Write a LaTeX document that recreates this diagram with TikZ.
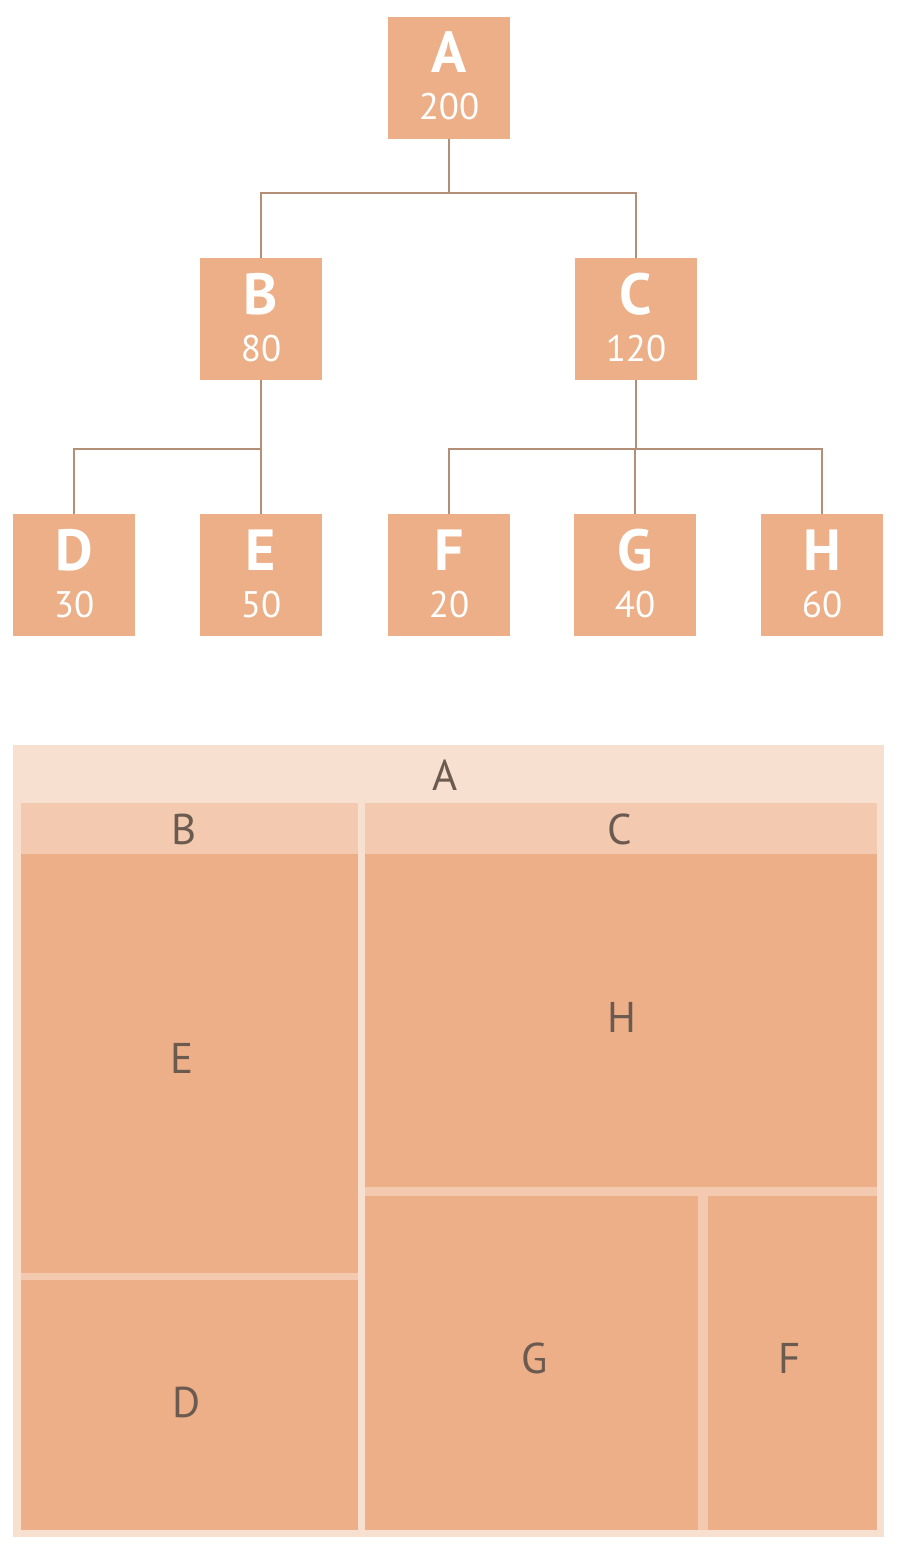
\documentclass[tikz,border=0pt]{standalone}
\usepackage{fontspec}
\setmainfont{PT Sans}
\usetikzlibrary{calc}
\definecolor{boxfill}{HTML}{EDAF87}
\definecolor{conncol}{HTML}{B38F78}
\definecolor{lvlA}{HTML}{F8E0D1}
\definecolor{lvlB}{HTML}{F3CAB0}
\definecolor{tmtext}{HTML}{6B5A50}
\begin{document}
\begin{tikzpicture}[x=1pt,y=-1pt,
  treebox/.style={fill=boxfill, draw=none, minimum width=122pt, minimum height=122pt, inner sep=0pt, outer sep=0pt},
  bigletter/.style={text=white, font=\fontsize{58}{58}\selectfont\bfseries, inner sep=0pt, anchor=base},
  bignum/.style={text=white, font=\fontsize{37}{37}\selectfont, inner sep=0pt, anchor=base},
  conn/.style={draw=conncol, line width=2.2pt},
  tmlabel/.style={text=tmtext, font=\fontsize{43}{43}\selectfont, inner sep=0pt}]
\useasboundingbox (0,0) rectangle (900,1544);
% ---- tree ----
\node[treebox] (A) at (449,78) {};
\node[treebox] (B) at (261,319) {};
\node[treebox] (C) at (636,319) {};
\node[treebox] (D) at (74,575) {};
\node[treebox] (E) at (261,575) {};
\node[treebox] (F) at (449,575) {};
\node[treebox] (G) at (635,575) {};
\node[treebox] (H) at (822,575) {};
\foreach \n/\v in {A/200,B/80,C/120,D/30,E/50,F/20,G/40,H/60}{
  \node[bigletter] (\n-l) at ($(\n.center)+(0,-5)$) {\n};
  \node[bignum] (\n-v) at ($(\n.center)+(0,42)$) {\v};
}
\coordinate (a1) at (449,193);
\coordinate (b1) at (261,449);
\coordinate (c1) at (636,449);
\draw[conn] (A.south) -- (a1);
\draw[conn] (B.north) -- (B.north |- a1) -- (C.north |- a1) -- (C.north);
\draw[conn] (B.south) -- (E.north);
\draw[conn] (D.north) -- (D.north |- b1) -- (E.north |- b1);
\draw[conn] (C.south) -- (C.south |- c1);
\draw[conn] (F.north) -- (F.north |- c1) -- (H.north |- c1) -- (H.north);
\draw[conn] (G.north) -- (G.north |- c1);
% ---- treemap ----
\fill[lvlA] (13,745) rectangle (884,1537);
\fill[lvlB] (21,803) rectangle (358,1530);
\fill[lvlB] (365,803) rectangle (877,1530);
\fill[boxfill] (21,854) rectangle (358,1273);
\fill[boxfill] (21,1280) rectangle (358,1530);
\fill[boxfill] (365,854) rectangle (877,1187);
\fill[boxfill] (365,1196) rectangle (698,1530);
\fill[boxfill] (708,1196) rectangle (877,1530);
\node[tmlabel] (tA) at (445,775) {A};
\node[tmlabel] (tB) at (184,829) {B};
\node[tmlabel] (tC) at (620,829) {C};
\node[tmlabel] (tE) at (182,1058) {E};
\node[tmlabel] (tH) at (622,1017) {H};
\node[tmlabel] (tG) at (535,1358) {G};
\node[tmlabel] (tF) at (790,1358) {F};
\node[tmlabel] (tD) at (187,1402) {D};
\end{tikzpicture}
\end{document}
